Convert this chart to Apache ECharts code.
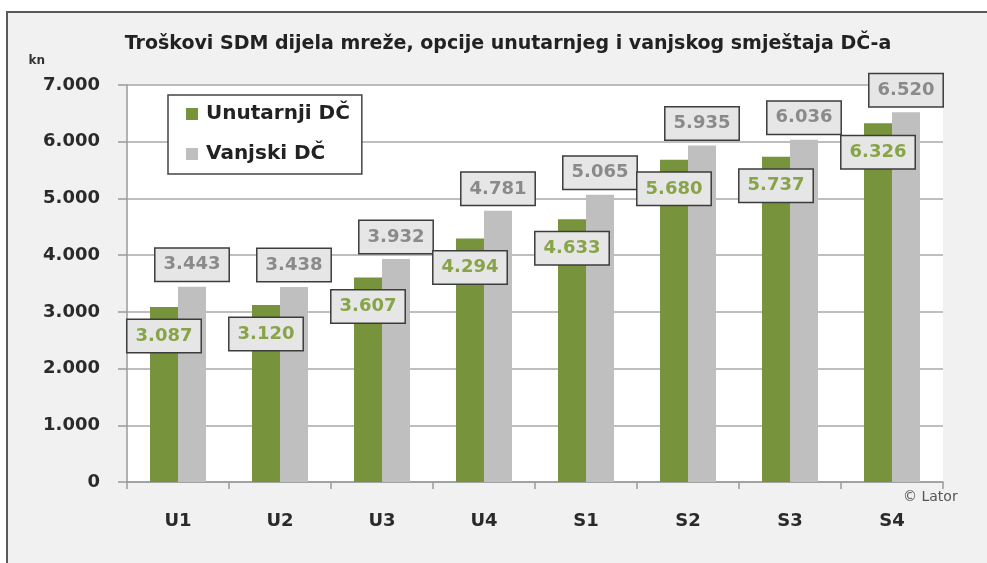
<!DOCTYPE html>
<html>
<head>
<meta charset="utf-8">
<script src="https://cdn.jsdelivr.net/npm/echarts@6/dist/echarts.min.js"></script>
<style>
  html, body { margin: 0; padding: 0; background: #fff; }
  #chart { width: 987px; height: 563px; }
</style>
</head>
<body>
<div id="chart"></div>
<script>
// podaci s grafa
const categories = ['U1', 'U2', 'U3', 'U4', 'S1', 'S2', 'S3', 'S4']
const unutarnji = [3087, 3120, 3607, 4294, 4633, 5680, 5737, 6326]
const vanjski = [3443, 3438, 3932, 4781, 5065, 5935, 6036, 6520]
const yTicks = [0, 1000, 2000, 3000, 4000, 5000, 6000, 7000]

const FONT = 'DejaVu Sans'

// broj s točkom kao separatorom tisućica
const fmt = (v) => String(v).replace(/\B(?=(\d{3})+(?!\d))/g, '.')

const labelBox = (color) => ({
  show: true,
  formatter: (p) => fmt(p.value),
  fontFamily: FONT,
  fontWeight: 'bold',
  fontSize: 18,
  lineHeight: 22,
  color: color,
  backgroundColor: '#e6e6e6',
  borderColor: '#3c3c3c',
  borderWidth: 1.5,
  padding: [5, 8]
})

const chart = echarts.init(document.getElementById('chart'))

const option = {
  animation: false,
  backgroundColor: '#fff',
  graphic: [
    {
      type: 'rect',
      z: -10,
      shape: { x: 7, y: 12, width: 1000, height: 600 },
      style: { fill: '#f1f1f1', stroke: '#5a5a5a', lineWidth: 2 }
    },
    {
      type: 'text',
      left: 903,
      top: 490,
      style: { text: '© Lator', fontFamily: FONT, fontSize: 14, fill: '#555' }
    }
  ],
  title: {
    text: 'Troškovi SDM dijela mreže, opcije unutarnjeg i vanjskog smještaja DČ-a',
    left: 503,
    textAlign: 'center',
    top: 30,
    textStyle: { fontFamily: FONT, fontWeight: 'bold', fontSize: 19, color: '#222' }
  },
  legend: {
    orient: 'vertical',
    left: 168,
    top: 95,
    padding: [9, 12, 10, 18],
    itemGap: 20,
    itemWidth: 12,
    itemHeight: 12,
    backgroundColor: '#fff',
    borderColor: '#444',
    borderWidth: 1.5,
    icon: 'rect',
    textStyle: { fontFamily: FONT, fontWeight: 'bold', fontSize: 20, color: '#222', padding: [0, 0, 0, 3] },
    data: ['Unutarnji DČ', 'Vanjski DČ']
  },
  grid: {
    left: 127,
    top: 85,
    width: 816,
    height: 397,
    show: true,
    backgroundColor: '#fff',
    borderWidth: 0
  },
  xAxis: {
    type: 'category',
    data: categories,
    axisLine: { lineStyle: { color: '#9a9a9a', width: 1.5 } },
    axisTick: { show: true, length: 7, lineStyle: { color: '#9a9a9a', width: 1.5 } },
    axisLabel: { margin: 30, fontFamily: FONT, fontWeight: 'bold', fontSize: 18, color: '#2a2a2a' }
  },
  yAxis: {
    type: 'value',
    min: 0,
    max: 7000,
    interval: 1000,
    name: 'kn',
    nameLocation: 'end',
    nameGap: 24,
    nameTextStyle: { fontFamily: FONT, fontWeight: 'bold', fontSize: 12, color: '#333', align: 'right', verticalAlign: 'middle', padding: [0, 82, 0, 0] },
    axisLine: { show: true, lineStyle: { color: '#9a9a9a', width: 1.5 } },
    axisTick: { show: true, length: 9, lineStyle: { color: '#9a9a9a', width: 1.5 } },
    splitLine: { lineStyle: { color: '#a8a8a8', width: 1.5 } },
    axisLabel: {
      margin: 27,
      fontFamily: FONT,
      fontWeight: 'bold',
      fontSize: 18,
      color: '#2a2a2a',
      formatter: (v) => yTicks.includes(v) ? fmt(v) : ''
    }
  },
  series: [
    {
      name: 'Unutarnji DČ',
      type: 'bar',
      z: 3,
      barWidth: 28,
      barGap: '0%',
      itemStyle: { color: '#77933c' },
      label: Object.assign(labelBox('#88a448'), { position: 'insideTop', distance: 13 }),
      data: unutarnji
    },
    {
      name: 'Vanjski DČ',
      type: 'bar',
      z: 2,
      barWidth: 28,
      barGap: '0%',
      itemStyle: { color: '#bfbfbf' },
      label: Object.assign(labelBox('#8a8a8a'), { position: 'top', distance: 6 }),
      data: vanjski
    }
  ]
}

chart.setOption(option)

window.addEventListener('resize', () => {
  chart.resize()
})
</script>
</body>
</html>
